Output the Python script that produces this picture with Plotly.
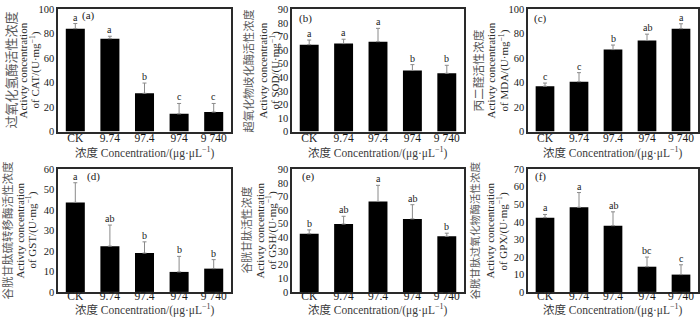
import plotly.graph_objects as go

W, H = 700, 325

categories = ["CK", "9.74", "97.4", "974", "9 740"]

cat_vals = [84.2, 76.0, 31.3, 14.5, 16.0]
cat_err = [4.2, 2.0, 8.4, 8.5, 7.0]
cat_letters = ["a", "a", "b", "c", "c"]

sod_vals = [64.0, 64.8, 66.2, 45.0, 42.9]
sod_err = [3.4, 3.2, 9.8, 4.3, 5.9]
sod_letters = ["a", "a", "a", "b", "b"]

mda_vals = [37.1, 40.8, 67.1, 74.5, 84.2]
mda_err = [2.6, 7.4, 3.7, 5.2, 4.0]
mda_letters = ["c", "c", "b", "ab", "a"]

gst_vals = [43.8, 22.4, 19.0, 9.8, 11.4]
gst_err = [9.6, 10.3, 5.5, 7.6, 4.4]
gst_letters = ["a", "ab", "b", "b", "b"]

gsh_vals = [42.7, 49.8, 66.4, 53.6, 40.8]
gsh_err = [2.8, 5.7, 11.8, 10.4, 2.3]
gsh_letters = ["b", "ab", "a", "ab", "b"]

gpx_vals = [42.4, 48.3, 37.8, 14.4, 9.9]
gpx_err = [1.8, 8.4, 7.9, 5.5, 5.6]
gpx_letters = ["a", "a", "ab", "bc", "c"]

panel_labels = ["(a)", "(b)", "(c)", "(d)", "(e)", "(f)"]
cn_titles = ["过氧化氢酶活性浓度", "超氧化物歧化酶活性浓度", "丙二醛活性浓度",
             "谷胱甘肽硫转移酶活性浓度", "谷胱甘肽活性浓度", "谷胱甘肽过氧化物酶活性浓度"]
en_units = ["CAT", "SOD", "MDA", "GST", "GSH", "GPX"]
y_max = [100, 90, 100, 60, 90, 70]
y_dtick = [20, 10, 20, 10, 10, 10]
x_title = "浓度 Concentration/(μg·μL<sup>−1</sup>)"

series = [
    (cat_vals, cat_err, cat_letters),
    (sod_vals, sod_err, sod_letters),
    (mda_vals, mda_err, mda_letters),
    (gst_vals, gst_err, gst_letters),
    (gsh_vals, gsh_err, gsh_letters),
    (gpx_vals, gpx_err, gpx_letters),
]

# layout geometry (pixels)
cols = [(58, 231), (292, 464), (528, 698)]
rows = [(4.5, 131), (170, 297)]
xtitle_gap = [22, 18.5]
tick_standoff = [-5, -7]
title_offsets = [(-48, -35, -23), (-44, -29, -17), (-51, -37, -24),
                 (-51, -38, -26), (-46, -32, -20), (-53, -38, -25)]
cn_sizes = [13, 11.2, 11.7, 11.5, 10.9, 10.6]
label_pos = [(22, 6.5), (5, 9), (4, 9), (27, 7), (8, 7), (5, 7)]

SERIF = "Liberation Serif, Noto Sans CJK SC, serif"
CJK = "Noto Sans CJK SC, sans-serif"


def px(x):
    return x / W


def py(y):
    return 1 - y / H


fig = go.Figure()
annotations = []
layout_axes = {}

for i, (vals, errs, letters) in enumerate(series):
    r, c = divmod(i, 3)
    x0, x1 = cols[c]
    y0, y1 = rows[r]
    n = i + 1
    xa = "x" if n == 1 else f"x{n}"
    ya = "y" if n == 1 else f"y{n}"
    fig.add_trace(go.Bar(
        x=categories, y=vals, xaxis=xa, yaxis=ya,
        marker=dict(color="#000000", line=dict(width=0)),
        width=0.55,
        error_y=dict(type="data", array=errs, arrayminus=[0] * len(errs),
                     symmetric=False, color="#8a8a8a", thickness=1, width=2),
        showlegend=False, hoverinfo="skip",
    ))
    layout_axes[f"xaxis{n if n > 1 else ''}"] = dict(
        domain=[px(x0), px(x1)], anchor=ya, type="category",
        categoryorder="array", categoryarray=categories,
        range=[-0.5, len(categories) - 0.5],
        showline=True, mirror=True, linecolor="#2a2a2a", linewidth=1.5,
        ticks="", showgrid=False, zeroline=False, ticklabelstandoff=tick_standoff[r],
        tickfont=dict(family=SERIF, size=11.5, color="#1a1a1a"),
    )
    layout_axes[f"yaxis{n if n > 1 else ''}"] = dict(
        domain=[py(y1), py(y0)], anchor=xa, range=[0, y_max[i]],
        dtick=y_dtick[i], tick0=0,
        showline=True, mirror=True, linecolor="#2a2a2a", linewidth=1.5,
        ticks="", showgrid=False, zeroline=False,
        tickfont=dict(family=SERIF, size=10.5, color="#1a1a1a"),
    )
    # significance letters (category index positions)
    for j, (v, e, L) in enumerate(zip(vals, errs, letters)):
        annotations.append(dict(
            x=j, y=v + e, xref=xa, yref=ya, text=L, showarrow=False,
            yanchor="bottom", xanchor="center", yshift=-1,
            font=dict(family=SERIF, size=10, color="#1a1a1a"),
        ))
    # panel label
    lx, ly = label_pos[i]
    annotations.append(dict(
        x=px(x0 + lx), y=py(y0 + ly), xref="paper", yref="paper",
        text=panel_labels[i], showarrow=False, xanchor="left", yanchor="middle",
        font=dict(family=SERIF, size=11, color="#1a1a1a"),
    ))
    # y-axis titles (three lines)
    yc = py((y0 + y1) / 2)
    o1, o2, o3 = title_offsets[i]
    annotations.append(dict(
        x=px(x0 + o1), y=yc, xref="paper", yref="paper", text=cn_titles[i],
        textangle=-90, showarrow=False, xanchor="center", yanchor="middle",
        font=dict(family=CJK, size=cn_sizes[i], color="#5a5a5a"),
    ))
    annotations.append(dict(
        x=px(x0 + o2), y=yc, xref="paper", yref="paper", text="Activty concentration",
        textangle=-90, showarrow=False, xanchor="center", yanchor="middle",
        font=dict(family=SERIF, size=11, color="#2a2a2a"),
    ))
    annotations.append(dict(
        x=px(x0 + o3), y=yc, xref="paper", yref="paper",
        text=f"of {en_units[i]}/(U·mg<sup>−1</sup>)",
        textangle=-90, showarrow=False, xanchor="center", yanchor="middle",
        font=dict(family=SERIF, size=11, color="#2a2a2a"),
    ))
    # x-axis title
    annotations.append(dict(
        x=px((x0 + x1) / 2), y=py(y1 + xtitle_gap[r]), xref="paper", yref="paper",
        text=x_title, showarrow=False, xanchor="center", yanchor="middle",
        font=dict(family=SERIF, size=11.5, color="#3a3a3a"),
    ))

fig.update_layout(
    width=W, height=H, margin=dict(l=0, r=0, t=0, b=0),
    paper_bgcolor="white", plot_bgcolor="white",
    annotations=annotations, **layout_axes,
)

fig.write_html(
    "out.html",
    config={"displayModeBar": False},
    post_script="document.body.style.margin='0';document.body.style.overflow='hidden';",
)
